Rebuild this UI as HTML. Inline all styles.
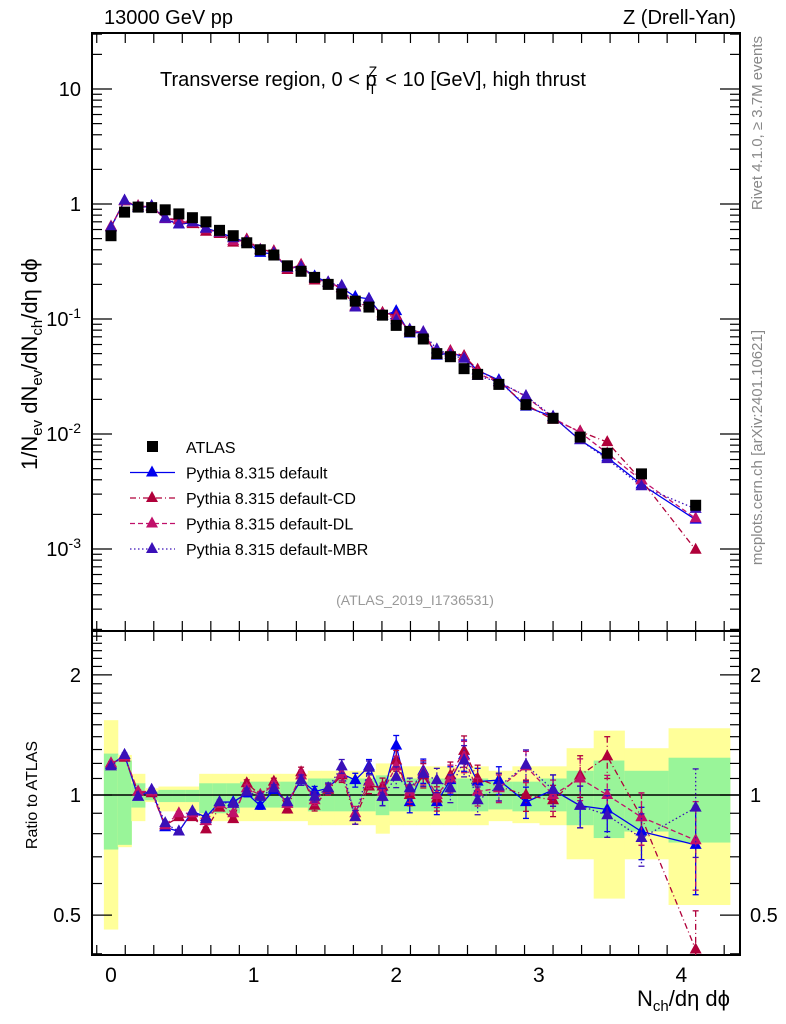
<!DOCTYPE html>
<html><head><meta charset="utf-8"><style>
body{margin:0;background:#fff;}
svg{display:block;font-family:"Liberation Sans",sans-serif;}
</style></head><body>
<svg id="c" width="786" height="1024" viewBox="0 0 786 1024"></svg>
<script>
const xCenters=[0,0.095,0.19,0.285,0.38,0.476,0.571,0.666,0.761,0.857,0.952,1.047,1.142,1.237,1.333,1.428,1.523,1.618,1.713,1.809,1.904,2.0,2.095,2.19,2.285,2.38,2.476,2.571,2.72,2.91,3.10,3.29,3.48,3.72,4.10];
const atlas=[0.53,0.85,0.94,0.93,0.89,0.82,0.76,0.70,0.59,0.53,0.46,0.40,0.36,0.29,0.26,0.23,0.20,0.165,0.143,0.127,0.108,0.088,0.078,0.067,0.050,0.047,0.037,0.033,0.027,0.018,0.0137,0.0094,0.0068,0.0045,0.0024];
const rDefault=[1.19,1.26,0.99,1.03,0.83,0.81,0.91,0.88,0.96,0.96,1.01,0.94,1.03,0.96,1.09,1.02,1.04,1.13,1.09,1.18,0.99,1.33,0.96,1.15,0.96,1.09,1.26,1.08,1.09,0.96,1.03,0.94,0.92,0.81,0.75];
const rCD=[1.2,1.24,1.02,1.01,0.84,0.88,0.88,0.82,0.93,0.87,1.07,1.0,1.08,0.92,1.14,0.94,1.03,1.12,0.88,1.05,1.05,1.22,1.0,1.12,0.98,1.12,1.29,1.1,1.05,1.0,0.97,1.12,1.25,0.88,0.41];
const rDL=[1.2,1.25,1.02,1.02,0.84,0.9,0.9,0.86,0.95,0.9,1.04,1.0,1.06,0.95,1.12,0.97,1.04,1.13,0.9,1.08,1.02,1.18,1.02,1.14,1.0,1.1,1.25,1.02,1.04,1.18,1.0,1.1,1.0,0.88,0.77];
const rMBR=[1.18,1.26,0.99,1.03,0.85,0.81,0.91,0.87,0.96,0.95,1.02,0.99,1.04,0.96,1.09,0.99,1.04,1.18,0.88,1.17,0.99,1.11,1.04,1.13,1.09,1.04,1.22,0.97,1.05,1.19,1.03,0.94,0.89,0.78,0.93];
const relErr=[0.01,0.01,0.01,0.01,0.01,0.01,0.01,0.01,0.01,0.01,0.02,0.02,0.02,0.02,0.03,0.03,0.03,0.04,0.04,0.04,0.05,0.06,0.06,0.07,0.07,0.08,0.09,0.08,0.08,0.09,0.09,0.12,0.12,0.15,0.25];
const yelHi=[1.54,1.26,1.13,1.04,1.05,1.05,1.05,1.13,1.13,1.13,1.13,1.13,1.13,1.13,1.13,1.15,1.15,1.15,1.15,1.15,1.2,1.18,1.18,1.18,1.18,1.18,1.18,1.18,1.15,1.18,1.18,1.31,1.45,1.31,1.47];
const yelLo=[0.46,0.74,0.86,0.96,0.91,0.91,0.91,0.86,0.86,0.86,0.86,0.86,0.86,0.86,0.86,0.84,0.84,0.84,0.84,0.84,0.8,0.84,0.84,0.84,0.84,0.84,0.84,0.84,0.86,0.85,0.84,0.69,0.55,0.69,0.53];
const grnHi=[1.27,1.22,1.07,1.02,1.03,1.03,1.03,1.07,1.07,1.07,1.08,1.08,1.08,1.08,1.08,1.1,1.1,1.1,1.1,1.1,1.12,1.1,1.1,1.1,1.1,1.1,1.1,1.1,1.08,1.08,1.1,1.15,1.22,1.15,1.24];
const grnLo=[0.73,0.75,0.93,0.97,0.96,0.96,0.96,0.9,0.9,0.9,0.93,0.93,0.93,0.93,0.93,0.91,0.91,0.91,0.91,0.91,0.89,0.91,0.91,0.91,0.91,0.91,0.91,0.91,0.92,0.91,0.91,0.84,0.78,0.81,0.76];
const mainTicks=[10,1,0.1,0.01,0.001];
const mainTickLabels=["10","1","10^-1","10^-2","10^-3"];
const ratioTicks=[2,1,0.5];
const xTicks=[0,1,2,3,4];

const NS="http://www.w3.org/2000/svg";
const svg=document.getElementById('c');
function el(tag,attrs,parent){const e=document.createElementNS(NS,tag);for(const k in attrs)e.setAttribute(k,attrs[k]);(parent||svg).appendChild(e);return e;}
const L=92,R=740,MT=33,MB=631,RB=955;
const X=v=>111+v*142.6;
const Ym=v=>204-Math.log10(v)*115;
const Yr=v=>795-Math.log10(v)*399;
const clampR=y=>Math.min(Math.max(y,MB),RB);

const edges=[];
for(let i=0;i<=xCenters.length;i++){
  if(i==0)edges.push(xCenters[0]-0.05);
  else if(i==xCenters.length)edges.push(4.34);
  else edges.push((xCenters[i-1]+xCenters[i])/2);
}
const gBand=el('g',{},svg);


for(let i=0;i<xCenters.length;i++){
  const x0=X(edges[i]),x1=X(edges[i+1]);
  const ry=el('rect',{x:x0,y:Yr(yelHi[i]),width:x1-x0+0.5,height:Yr(yelLo[i])-Yr(yelHi[i]),fill:'#ffff99'},gBand);
  
  
  const rg=el('rect',{x:x0,y:Yr(grnHi[i]),width:x1-x0+0.5,height:Yr(grnLo[i])-Yr(grnHi[i]),fill:'#99f599'},gBand);
  
  
}
const one=el('line',{x1:L,x2:R,y1:Yr(1),y2:Yr(1),stroke:'#000','stroke-width':1.5});



const f1=el('rect',{x:L,y:MT,width:R-L,height:MB-MT,fill:'none',stroke:'#000','stroke-width':2});


const f2=el('rect',{x:L,y:MB,width:R-L,height:RB-MB,fill:'none',stroke:'#000','stroke-width':2});



const gx=el('g',{stroke:'#000','stroke-width':1.2});


for(let v=-0.1;v<=4.41;v+=0.2){
  const t=Math.round(v*10)/10, x=X(t); if(x<L||x>R)continue;
  const major=Math.abs(t-Math.round(t))<1e-6, len=major?20:10;
  el('line',{x1:x,x2:x,y1:MT,y2:MT+len},gx);
  el('line',{x1:x,x2:x,y1:MB-len,y2:MB+len},gx);
  el('line',{x1:x,x2:x,y1:RB,y2:RB-len},gx);
}
xTicks.forEach(v=>{
  const t=el('text',{x:X(v),y:982,'font-size':21,'text-anchor':'middle'});t.textContent=v;
  
  
});
const gy=el('g',{stroke:'#000','stroke-width':1.2});


for(let d=-4;d<=1;d++){for(let m=1;m<10;m++){
  const v=m*Math.pow(10,d), y=Ym(v); if(y<MT||y>MB)continue;
  const len=m==1?20:10;
  el('line',{x1:L,x2:L+len,y1:y,y2:y},gy);el('line',{x1:R,x2:R-len,y1:y,y2:y},gy);
}}
mainTicks.forEach((v,i)=>{
  const lab=mainTickLabels[i];
  const t=el('text',{x:81,y:Ym(v)+7,'font-size':20,'text-anchor':'end'});
  
  
  if(lab.indexOf('^')>0){const p=lab.split('^');t.textContent=p[0];const s=el('tspan',{'font-size':14,dy:-8},t);s.textContent=p[1];}
  else t.textContent=lab;
});
for(let v=0.4;v<=2.6;v+=0.1){
  const vv=Math.round(v*10)/10,y=Yr(vv); if(y<MB||y>RB)continue;
  const major=(vv==0.5||vv==1||vv==2),len=major?20:10;
  el('line',{x1:L,x2:L+len,y1:y,y2:y},gy);el('line',{x1:R,x2:R-len,y1:y,y2:y},gy);
}
ratioTicks.forEach(v=>{
  const t=el('text',{x:81,y:Yr(v)+7,'font-size':20,'text-anchor':'end'});t.textContent=v;
  
  
  const t2=el('text',{x:750,y:Yr(v)+7,'font-size':20});t2.textContent=v;
  
  
});

const series=[
  {r:rDefault,c:'#0000ee',dash:'',name:'series-default'},
  {r:rCD,c:'#b0003a',dash:'6,3,1,3',name:'series-default-cd'},
  {r:rDL,c:'#c0106a',dash:'5,3',name:'series-default-dl'},
  {r:rMBR,c:'#3a10b8',dash:'1.5,2.5',name:'series-default-mbr'}
];
function tri(g,x,y,c){el('polygon',{points:`${x},${y-7} ${x-6},${y+4} ${x+6},${y+4}`,fill:c},g);}
series.forEach(s=>{
  const g=el('g',{});
  
  
  const pm=xCenters.map((x,i)=>X(x)+','+Ym(atlas[i]*s.r[i])).join(' ');
  el('polyline',{points:pm,fill:'none',stroke:s.c,'stroke-width':1.3,'stroke-dasharray':s.dash},g);
  const pr=xCenters.map((x,i)=>X(x)+','+Yr(s.r[i])).join(' ');
  el('polyline',{points:pr,fill:'none',stroke:s.c,'stroke-width':1.3,'stroke-dasharray':s.dash},g);
  xCenters.forEach((x,i)=>{
    const px=X(x);
    const e=relErr[i]*s.r[i];
    const ya=clampR(Yr(s.r[i]+e)),yb=clampR(Yr(Math.max(s.r[i]-e,0.3)));
    el('line',{x1:px,x2:px,y1:ya,y2:yb,stroke:s.c,'stroke-width':1.3,'stroke-dasharray':s.dash},g);
    el('line',{x1:px-3,x2:px+3,y1:ya,y2:ya,stroke:s.c,'stroke-width':1.3},g);
    if(yb<RB)el('line',{x1:px-3,x2:px+3,y1:yb,y2:yb,stroke:s.c,'stroke-width':1.3},g);
    tri(g,px,Ym(atlas[i]*s.r[i]),s.c);
    tri(g,px,Yr(s.r[i]),s.c);
  });
});
const ga=el('g',{fill:'#000'});


xCenters.forEach((x,i)=>{el('rect',{x:X(x)-5.5,y:Ym(atlas[i])-5.5,width:11,height:11},ga);});

const legend=[['ATLAS','sq','#000',''],['Pythia 8.315 default','tri','#0000ee',''],['Pythia 8.315 default-CD','tri','#b0003a','6,3,1,3'],['Pythia 8.315 default-DL','tri','#c0106a','5,3'],['Pythia 8.315 default-MBR','tri','#3a10b8','1.5,2.5']];
legend.forEach((l,i)=>{
  const y=447+i*25.5;
  const g=el('g',{});
  
  
  if(l[1]=='sq')el('rect',{x:147,y:y-6,width:11,height:11,fill:'#000'},g);
  else{el('line',{x1:130,x2:175,y1:y,y2:y,stroke:l[2],'stroke-width':1.3,'stroke-dasharray':l[3]},g);tri(g,152,y,l[2]);}
  const t=el('text',{x:186,y:y+6,'font-size':16},g);t.textContent=l[0];
});

function txt(x,y,s,attrs,name){const t=el('text',Object.assign({x:x,y:y},attrs));t.textContent=s;return t;}
txt(104,24,'13000 GeV pp',{'font-size':20},'energy-label');
txt(736,24,'Z (Drell-Yan)',{'font-size':20,'text-anchor':'end'},'process-label');
const tt=txt(160,86,'Transverse region, 0 < p',{'font-size':20},'plot-title');
const sup=el('tspan',{'font-size':14,dx:-8,dy:-10},tt);sup.textContent='Z';
const sub=el('tspan',{'font-size':14,dx:-9,dy:18},tt);sub.textContent='T';
const rest=el('tspan',{'font-size':20,dx:3,dy:-8},tt);rest.textContent=' < 10 [GeV], high thrust';
txt(415,605,'(ATLAS_2019_I1736531)',{'font-size':14,fill:'#999','text-anchor':'middle'},'analysis-id');
txt(0,0,'Rivet 4.1.0, \u2265 3.7M events',{'font-size':15,fill:'#888','text-anchor':'end',transform:'translate(762,36) rotate(-90)'},'rivet-label');
txt(0,0,'mcplots.cern.ch [arXiv:2401.10621]',{'font-size':15,fill:'#888','text-anchor':'end',transform:'translate(762,330) rotate(-90)'},'mcplots-label');
const yl=txt(0,0,'1/N',{'font-size':22,'text-anchor':'start',transform:'translate(37,470) rotate(-90)'},'y-axis-title');
[['ev',1],[' dN',0],['ev',1],['/dN',0],['ch',1],['/d\u03b7 d\u03d5',0]].forEach(p=>{const s=el('tspan',{'font-size':p[1]?15:22,dy:p[1]?5:-5},yl);s.textContent=p[0];});
txt(0,0,'Ratio to ATLAS',{'font-size':16,'text-anchor':'middle',transform:'translate(37,795) rotate(-90)'},'ratio-y-axis-title');
const xl=txt(637,1006,'N',{'font-size':22},'x-axis-title');
const xs=el('tspan',{'font-size':15,dy:5},xl);xs.textContent='ch';
const xr=el('tspan',{'font-size':22,dy:-5},xl);xr.textContent='/d\u03b7 d\u03d5';
</script>
</body></html>
